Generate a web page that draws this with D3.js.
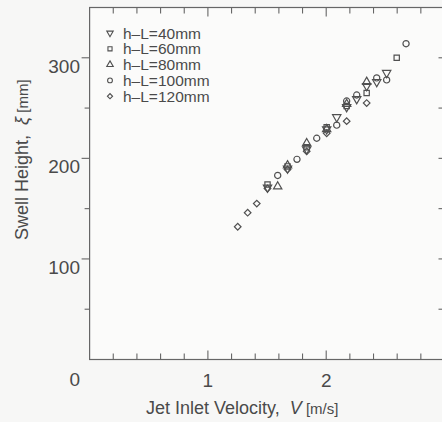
<!DOCTYPE html>
<html>
<head>
<meta charset="utf-8">
<script src="https://cdn.jsdelivr.net/npm/d3@7"></script>
<style>
  html, body { margin: 0; padding: 0; background: #f7f7f6; }
  svg { display: block; }
  text { font-family: "Liberation Sans", Arial, Helvetica, sans-serif; fill: #4a4a4a; }
</style>
</head>
<body>
<svg id="chart" width="442" height="422"></svg>
<script>
// Swell height measurements for each h-L setting (V in m/s, xi in mm)
const v40  = [1.504, 1.673, 1.835, 2.004, 2.089, 2.173, 2.258, 2.342, 2.427, 2.511];
const xi40 = [171, 190, 209, 229, 241, 251, 259, 272, 276, 285];

const v60  = [1.504, 1.673, 1.835, 2.004, 2.173, 2.342, 2.596];
const xi60 = [174, 192, 211, 231, 252, 265, 300];

const v80  = [1.590, 1.673, 1.835, 2.004, 2.173, 2.342];
const xi80 = [172, 193, 215, 229, 254, 276];

const v100  = [1.590, 1.753, 1.920, 2.089, 2.173, 2.258, 2.427, 2.511, 2.675];
const xi100 = [183, 199, 220, 233, 257, 263, 280, 278, 314];

const v120  = [1.252, 1.336, 1.413, 1.504, 1.673, 1.835, 2.004, 2.173, 2.342];
const xi120 = [132, 146, 155, 170, 189, 207, 225, 237, 255];

const seriesLabels = ["h\u2013L=40mm", "h\u2013L=60mm", "h\u2013L=80mm", "h\u2013L=100mm", "h\u2013L=120mm"];
const xTickLabels = [1, 2];
const yTickLabels = [100, 200, 300];

const series = [
  { label: seriesLabels[0], v: v40,  xi: xi40,  shape: "tri-down" },
  { label: seriesLabels[1], v: v60,  xi: xi60,  shape: "square" },
  { label: seriesLabels[2], v: v80,  xi: xi80,  shape: "tri-up" },
  { label: seriesLabels[3], v: v100, xi: xi100, shape: "circle" },
  { label: seriesLabels[4], v: v120, xi: xi120, shape: "diamond" }
];

const svg = d3.select("#chart");
const ink = "#505050";

const x = d3.scaleLinear().domain([0, 3]).range([89.6, 444.5]);
const y = d3.scaleLinear().domain([0, 350]).range([359.5, 7.5]);

// symbol type, area and rotation for each marker shape
const shapeType = { "circle": d3.symbolCircle, "square": d3.symbolSquare, "tri-up": d3.symbolTriangle,
                    "tri-down": d3.symbolTriangle, "diamond": d3.symbolSquare };
const shapeArea = { "circle": 30, "square": 28, "tri-up": 30, "tri-down": 30, "diamond": 22 };
const shapeRot  = { "circle": 0, "square": 0, "tri-up": 0, "tri-down": 180, "diamond": 45 };

// frame
svg.append("rect")
  .attr("x", x(0)).attr("y", y(350))
  .attr("width", x(3) - x(0)).attr("height", y(0) - y(350))
  .attr("fill", "#fbfbfa").attr("stroke", "#666").attr("stroke-width", 1.2);

// bottom and top ticks (inward)
const xMinor = d3.range(0.2, 3.0, 0.2).map(d => +d.toFixed(1));
const xTickG = svg.append("g").attr("stroke", "#666").attr("stroke-width", 1.1);
xMinor.forEach(t => {
  const major = Math.abs(t - Math.round(t)) < 1e-6;
  const len = major ? 9 : 6;
  xTickG.append("line").attr("x1", x(t)).attr("x2", x(t))
    .attr("y1", y(0)).attr("y2", y(0) - len);
  xTickG.append("line").attr("x1", x(t)).attr("x2", x(t))
    .attr("y1", y(350)).attr("y2", y(350) + len);
});

// left and right ticks
const yMinor = d3.range(50, 350, 50);
const yTickG = svg.append("g").attr("stroke", "#666").attr("stroke-width", 1.1);
yMinor.forEach(t => {
  const major = t % 100 === 0;
  const len = major ? 8 : 5;
  yTickG.append("line").attr("x1", x(0) - len).attr("x2", x(0))
    .attr("y1", y(t)).attr("y2", y(t));
  yTickG.append("line").attr("x1", x(3)).attr("x2", x(3) - 6)
    .attr("y1", y(t)).attr("y2", y(t));
});

// tick labels
svg.append("g").selectAll("text").data(xTickLabels).join("text")
  .attr("x", d => x(d)).attr("y", 387)
  .attr("text-anchor", "middle").attr("font-size", 19)
  .text(d => d);
svg.append("g").selectAll("text").data(yTickLabels).join("text")
  .attr("x", 80).attr("y", d => y(d) + 15)
  .attr("text-anchor", "end").attr("font-size", 19)
  .text(d => d);
svg.append("text").attr("x", 80).attr("y", 386)
  .attr("text-anchor", "end").attr("font-size", 19).text("0");

// axis titles
const xt = svg.append("text").attr("x", 146).attr("y", 414).attr("font-size", 18);
xt.append("tspan").text("Jet Inlet Velocity,\u00a0\u00a0");
xt.append("tspan").attr("font-style", "italic").text("V");
xt.append("tspan").attr("font-size", 15).text(" [m/s]");

const yt = svg.append("text")
  .attr("transform", "translate(28,240) rotate(-90)")
  .attr("font-size", 18);
yt.append("tspan").text("Swell Height,\u00a0\u00a0");
yt.append("tspan").attr("font-style", "italic").text("\u03be");
yt.append("tspan").attr("font-size", 15).text(" [mm]");

// data markers
series.forEach(s => {
  svg.append("g").selectAll("path")
    .data(s.v.map((v, i) => [v, s.xi[i]]))
    .join("path")
    .attr("d", d3.symbol(shapeType[s.shape], shapeArea[s.shape])())
    .attr("transform", d => `translate(${x(d[0])},${y(d[1])}) rotate(${shapeRot[s.shape]})`)
    .attr("fill", "none").attr("stroke", ink).attr("stroke-width", 1.2);
});

// legend
const legend = svg.append("g");
series.forEach((s, i) => {
  const ly = 33 + i * 15.8;
  legend.append("path")
    .attr("d", d3.symbol(shapeType[s.shape], shapeArea[s.shape] * 0.6)())
    .attr("transform", `translate(110,${ly}) rotate(${shapeRot[s.shape]})`)
    .attr("fill", "none").attr("stroke", ink).attr("stroke-width", 1.1);
  legend.append("text").attr("x", 123).attr("y", ly + 5.5)
    .attr("font-size", 15.5).text(s.label);
});
</script>
</body>
</html>
